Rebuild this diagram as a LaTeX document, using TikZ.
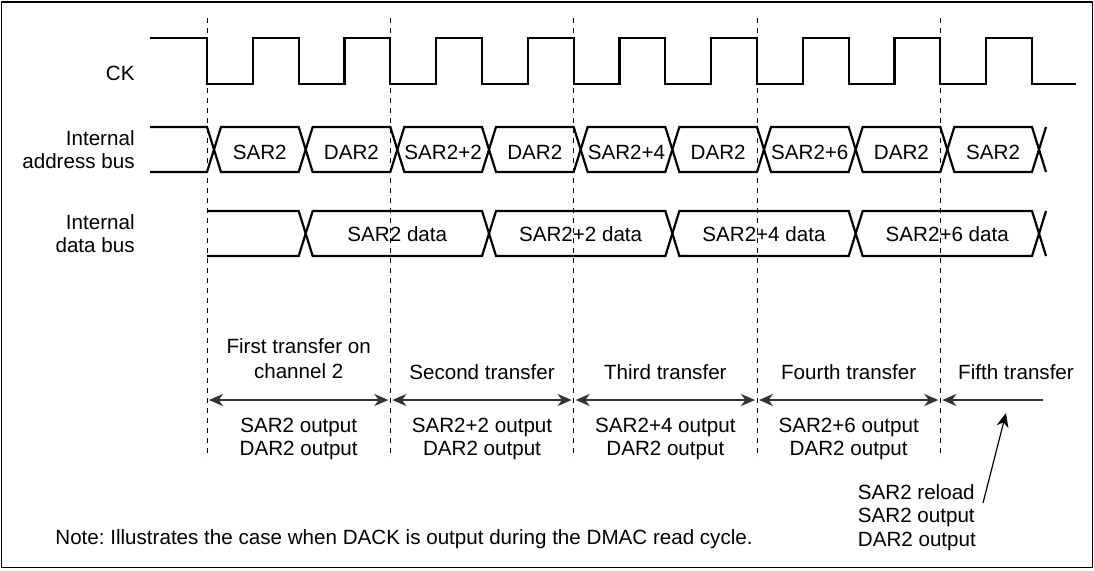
\documentclass[tikz,border=0pt]{standalone}
\usepackage{fontspec}
\setmainfont{Liberation Sans}
\usetikzlibrary{arrows.meta, positioning}
\frenchspacing

\begin{document}
\begin{tikzpicture}[
  x=0.5pt, y=-0.5pt,
  >={Stealth[length=7pt, width=6pt, inset=2.2pt]},
  wave/.style={line width=1.1pt},
  guide/.style={line width=0.5pt, dash pattern=on 2.6pt off 2.4pt},
  span/.style={<->, line width=1.1pt, black!80},
  txt/.style={font=\fontsize{10.3}{11.5}\selectfont, inner sep=0pt, anchor=base},
  sig/.style={txt, align=right, anchor=base east}
]

% Frame
\useasboundingbox (0,0) rectangle (1094,570);
\draw[line width=0.8pt] (1.5,2) rectangle (1092.5,567.5);

% Signal names
\node[sig] (ck) at (135,80) {CK};
\node[sig] (abus) at (135,168) {Internal\\address bus};
\node[sig] (dbus) at (135,252) {Internal\\data bus};

% Transfer boundaries
\foreach \i in {0,...,4} {
  \draw[guide] (207+\i*183.333,18) -- (207+\i*183.333,458);
  \coordinate (g\i) at (207+\i*183.333,400);
}

% Clock
\draw[wave] (150,38) foreach \k in {0,...,8} {
    -- (207+\k*91.667,38) -- (207+\k*91.667,84) -- (252.8+\k*91.667,84) -- (252.8+\k*91.667,38)
  } -- (1032,38) -- (1032,84) -- (1076,84);

% Internal address bus
\draw[wave] (150,127) foreach \k in {0,...,9} {
    -- (207+\k*91.667,{149.5-22.5*cos(180*\k)}) -- (221+\k*91.667,{149.5+22.5*cos(180*\k)})
  };
\draw[wave] (150,172) foreach \k in {0,...,9} {
    -- (207+\k*91.667,{149.5+22.5*cos(180*\k)}) -- (221+\k*91.667,{149.5-22.5*cos(180*\k)})
  };
\foreach \k/\val in {0/SAR2, 1/DAR2, 2/SAR2+2, 3/DAR2, 4/SAR2+4, 5/DAR2, 6/SAR2+6, 7/DAR2, 8/SAR2}
  \node[txt] (a\k) at (259.8+\k*91.667,159) {\val};

% Internal data bus
\draw[wave] (207,211) foreach \j in {0,...,4} {
    -- (298.7+\j*183.333,{233.5-22.5*cos(180*\j)}) -- (312.7+\j*183.333,{233.5+22.5*cos(180*\j)})
  };
\draw[wave] (207,256) foreach \j in {0,...,4} {
    -- (298.7+\j*183.333,{233.5+22.5*cos(180*\j)}) -- (312.7+\j*183.333,{233.5-22.5*cos(180*\j)})
  };
\foreach \j/\val in {0/SAR2, 1/SAR2+2, 2/SAR2+4, 3/SAR2+6}
  \node[txt] (d\j) at (397.3+\j*183.333,241) {\val\ data};

% Transfers
\node[txt, align=center, font=\fontsize{10.3}{12.5}\selectfont] (t0) at (298.7,378) {First transfer on\\channel 2};
\foreach \i/\val in {1/Second, 2/Third, 3/Fourth}
  \node[txt] (t\i) at (298.7+\i*183.333,379) {\val\ transfer};
\node[txt] (t4) at (1016,379) {Fifth transfer};

\foreach \i/\j in {0/1, 1/2, 2/3, 3/4}
  \draw[span] ([xshift=1pt]g\i) -- ([xshift=-1pt]g\j);
\coordinate (gend) at (1043,400);
\draw[span, <-] ([xshift=1pt]g4) -- (gend);

\foreach \i/\val in {0/SAR2, 1/SAR2+2, 2/SAR2+4, 3/SAR2+6}
  \node[txt, align=center] (o\i) at (298.7+\i*183.333,455) {\val\ output\\DAR2 output};

% Reload
\node[txt, align=left, anchor=base west, font=\fontsize{10.3}{11.7}\selectfont] (reload) at (857.5,546) {SAR2 reload\\SAR2 output\\DAR2 output};
\coordinate (rtail) at (983,503);
\coordinate (rtip) at (1006,413);
\draw[->, line width=0.6pt] (rtail) -- (rtip);

% Note
\node[txt, anchor=base west] (note) at (55,544) {Note: Illustrates the case when DACK is output during the DMAC read cycle.};

\end{tikzpicture}
\end{document}
